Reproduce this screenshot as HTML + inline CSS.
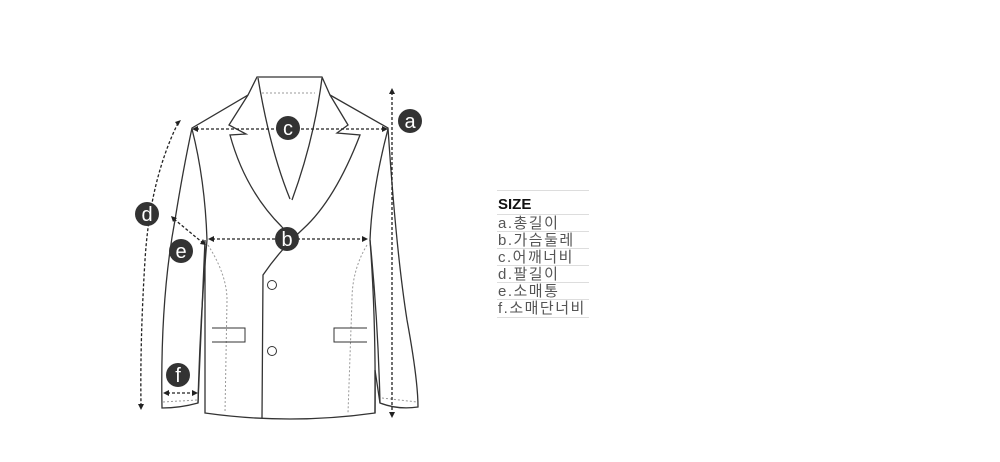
<!DOCTYPE html>
<html><head><meta charset="utf-8"><style>
body{margin:0;background:#fff;width:1000px;height:462px;overflow:hidden;position:relative;font-family:"Liberation Sans","Noto Sans CJK KR",sans-serif}
.t{position:absolute;left:497px;width:91px;border-top:1px solid #ddd;font-size:15px;letter-spacing:1.5px;color:#555;line-height:17px;height:16px;padding-left:1px;white-space:nowrap}
</style></head><body>
<svg width="1000" height="462" style="position:absolute;left:0;top:0" fill="none" stroke="#333" stroke-width="1.3">
<path d="M257,77 L322,77 L330,95 L388,128 Q396,250 407,320 Q418,380 418,407 Q398,410 380,403 L375,370 L375,413 Q290,425 205,413 L205,240 L198,403 Q180,408 162,408 Q160,300 175,220 Q183,170 192,128 L248,95 Z" fill="#fff"/>
<path d="M192,129 Q205,180 207,240"/>
<path d="M388,129 Q372,190 370,240 Q378,320 380,403"/>
<path d="M207,240 Q200,320 198,403"/>
<path d="M370,240 Q376,320 375,413"/>
<path d="M258,78 Q270,150 290,199"/>
<path d="M248,95 L229,125 L246,134 L230,135 Q245,190 282,227"/>
<path d="M322,78 Q314,140 292,200"/>
<path d="M330,95 L348,125 L337,133 L360,135 Q335,200 303,229 Q280,250 263,275 L262,418"/>
<path d="M282,227 Q288,235 296,233"/>
<g stroke-dasharray="2,2" stroke="#999" stroke-width="1">
<path d="M262,93 L315,93"/>
<path d="M163,402 L197,400"/><path d="M382,398 L417,402"/>
<path d="M208,245 Q227,275 227,300 L225,413"/>
<path d="M367,245 Q352,270 352,300 L348,413"/>
</g>
<circle cx="272" cy="285" r="4.5" stroke-width="1"/><circle cx="272" cy="351" r="4.5" stroke-width="1"/>
<path d="M212,328 L245,328 L245,342 L212,342" stroke-width="1"/>
<path d="M367,328 L334,328 L334,342 L367,342" stroke-width="1"/>
<g stroke="#222" stroke-width="1.3" stroke-dasharray="3,2">
<path d="M196,129 L384,129"/><path d="M212,239 L364,239"/>
<path d="M392,92 L392,414"/>
<path d="M178,123 Q150,180 145,260 Q140,340 141,405"/>
<path d="M174,219 L203,243"/>
<path d="M167,393 L195,393"/>
</g>
<g fill="#222" stroke="none">
<path d="M192,129 l6,-3 v6z"/><path d="M388,129 l-6,-3 v6z"/>
<path d="M208,239 l6,-3 v6z"/><path d="M368,239 l-6,-3 v6z"/>
<path d="M392,88 l-3,6 h6z"/><path d="M392,418 l-3,-6 h6z"/>
<path d="M181,120 l-6,2 l3,4z"/><path d="M141,410 l-3,-6 h6z"/>
<path d="M171,216 l2,6 l4,-4z"/><path d="M206,245 l-6,-1 l3,-5z"/>
<path d="M163,393 l6,-3 v6z"/><path d="M198,393 l-6,-3 v6z"/>
</g>
<g fill="#333" stroke="none">
<circle cx="288" cy="128" r="12"/><circle cx="287" cy="239" r="12"/><circle cx="410" cy="121" r="12"/>
<circle cx="147" cy="214" r="12"/><circle cx="181" cy="251" r="12"/><circle cx="178" cy="375" r="12"/>
</g>
<g fill="#fff" stroke="none" font-family="Liberation Sans,sans-serif" font-size="20" text-anchor="middle">
<text x="288" y="135">c</text><text x="287" y="246">b</text><text x="410" y="128">a</text>
<text x="147" y="221">d</text><text x="181" y="258">e</text><text x="178" y="382">f</text>
</g>
</svg>
<div class="t" style="top:190px;height:22px;line-height:28px;font-size:15px;letter-spacing:0;color:#111;font-weight:bold">SIZE</div>
<div class="t" style="top:214px">a.총길이</div>
<div class="t" style="top:231px">b.가슴둘레</div>
<div class="t" style="top:248px">c.어깨너비</div>
<div class="t" style="top:265px">d.팔길이</div>
<div class="t" style="top:282px">e.소매통</div>
<div class="t" style="top:299px">f.소매단너비</div>
<div class="t" style="top:317px;height:0"></div>
</body></html>
